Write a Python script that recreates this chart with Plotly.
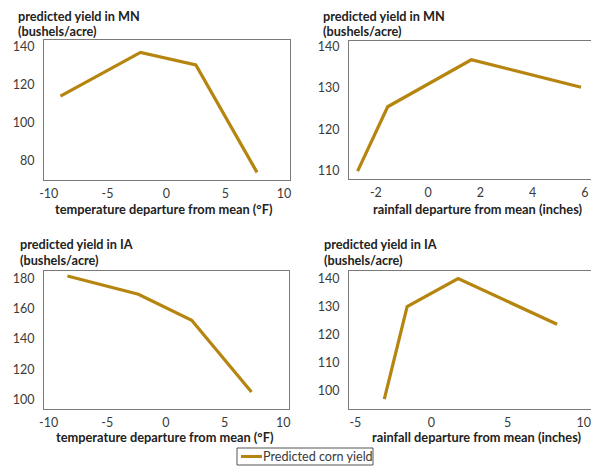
import plotly.graph_objects as go

W, H = 591, 467

# Predicted corn yield (bushels/acre) versus departures from the mean
mn_temp_x = [-9.0, -2.2, 2.5, 7.7]
mn_temp_y = [114, 137, 130.4, 74]

mn_rain_x = [-2.7, -1.55, 1.65, 5.85]
mn_rain_y = [110, 125.5, 136.8, 130.2]

ia_temp_x = [-8.4, -2.35, 2.2, 7.3]
ia_temp_y = [181.7, 169.6, 152.4, 105]

ia_rain_x = [-3.1, -1.6, 1.75, 8.25]
ia_rain_y = [97, 130, 140, 123.7]

panel_titles = [("predicted yield in MN", "(bushels/acre)"),
                ("predicted yield in MN", "(bushels/acre)"),
                ("predicted yield in IA", "(bushels/acre)"),
                ("predicted yield in IA", "(bushels/acre)")]
x_titles = ["temperature departure from mean (°F)",
            "rainfall departure from mean (inches)",
            "temperature departure from mean (°F)",
            "rainfall departure from mean (inches)"]
series_name = "Predicted corn yield"

x_ticks = [[-10, -5, 0, 5, 10], [-2, 0, 2, 4, 6],
           [-10, -5, 0, 5, 10], [-5, 0, 5, 10]]
y_ticks = [[80, 100, 120, 140], [110, 120, 130, 140],
           [100, 120, 140, 160, 180], [100, 110, 120, 130, 140]]

LINE = "#B5850F"
AX = "#7a7a7a"
TXT = "#3a3a3a"
FONT = "Lato"


def px_x(p):
    return p / W


def px_y(p):
    return 1 - p / H


def tick_text(vals):
    # plain hyphen for negatives
    return [str(v) for v in vals]


fig = go.Figure()

series = [(mn_temp_x, mn_temp_y), (mn_rain_x, mn_rain_y),
          (ia_temp_x, ia_temp_y), (ia_rain_x, ia_rain_y)]
for i, (xs, ys) in enumerate(series):
    sfx = "" if i == 0 else str(i + 1)
    fig.add_trace(go.Scatter(
        x=xs, y=ys, mode="lines", name=series_name,
        line=dict(color=LINE, width=3.2),
        xaxis="x" + sfx, yaxis="y" + sfx, showlegend=False,
        hoverinfo="skip",
    ))

# plot boxes in pixels: left, right, top, bottom
boxes = [(44, 290, 40, 180), (349, 600, 40.5, 179),
         (44, 289, 271, 409), (349, 600, 271, 409)]
x_ranges = [[-10.4, 10.5], [-3.03, 6.23], [-10.4, 10.5], [-5.42, 10.48]]
y_ranges = [[70, 143.5], [108.1, 141.45], [93.8, 185], [93.5, 142.7]]

tick_font = dict(family=FONT, size=12.5, color=TXT)
for i, (l, r, t, b) in enumerate(boxes):
    sfx = "" if i == 0 else str(i + 1)
    full_box = i in (0, 2)
    fig.layout["xaxis" + sfx] = dict(
        domain=[px_x(l), min(px_x(r), 1.0)], range=x_ranges[i],
        anchor="y" + sfx, tickvals=x_ticks[i], ticktext=tick_text(x_ticks[i]),
        showgrid=False, zeroline=False, showline=True, linecolor=AX,
        linewidth=1, mirror=True, ticks="", tickfont=tick_font,
        ticklabelstandoff=2, fixedrange=True,
    )
    fig.layout["yaxis" + sfx] = dict(
        domain=[px_y(b), px_y(t)], range=y_ranges[i],
        anchor="x" + sfx, tickvals=y_ticks[i], ticktext=tick_text(y_ticks[i]),
        showgrid=False, zeroline=False, showline=True, linecolor=AX,
        linewidth=1, mirror=full_box, ticks="", tickfont=tick_font,
        ticklabelstandoff=6, fixedrange=True,
    )

annotations = []
# two-line panel headings, each line placed separately
title_pos = [(16, 15.5, 31), (321, 15.5, 31), (18, 244.5, 260), (322, 244.5, 260)]
for (x0, y1, y2), (line1, line2) in zip(title_pos, panel_titles):
    for yc, txt in ((y1, line1), (y2, line2)):
        annotations.append(dict(
            text="<b>" + txt + "</b>", xref="paper", yref="paper",
            x=px_x(x0), y=px_y(yc), xanchor="left", yanchor="middle",
            align="left", showarrow=False,
            font=dict(family=FONT, size=12.7, color="#222222"),
        ))
xt_pos = [(164, 209), (478, 209), (165, 437), (476, 437)]
for (xc, yc), txt in zip(xt_pos, x_titles):
    annotations.append(dict(
        text="<b>" + txt + "</b>", xref="paper", yref="paper",
        x=px_x(xc), y=px_y(yc), xanchor="center", yanchor="middle",
        showarrow=False, font=dict(family=FONT, size=12.8, color="#222222"),
    ))

# key box at the bottom
annotations.append(dict(
    text=series_name, xref="paper", yref="paper",
    x=px_x(261), y=px_y(456.5), xanchor="left", yanchor="middle",
    showarrow=False, font=dict(family=FONT, size=12.6, color=TXT),
))
shapes = [
    dict(type="rect", xref="paper", yref="paper",
         x0=px_x(237), x1=px_x(373), y0=px_y(465), y1=px_y(448),
         line=dict(color="#555555", width=1), fillcolor="white", layer="below"),
    dict(type="line", xref="paper", yref="paper",
         x0=px_x(241), x1=px_x(262), y0=px_y(456.5), y1=px_y(456.5),
         line=dict(color=LINE, width=3)),
]

fig.update_layout(
    width=W, height=H,
    margin=dict(l=0, r=0, t=0, b=0, autoexpand=False),
    paper_bgcolor="white", plot_bgcolor="white",
    annotations=annotations, shapes=shapes,
    showlegend=False,
)

fig.write_html("out.html", config={"displayModeBar": False})
